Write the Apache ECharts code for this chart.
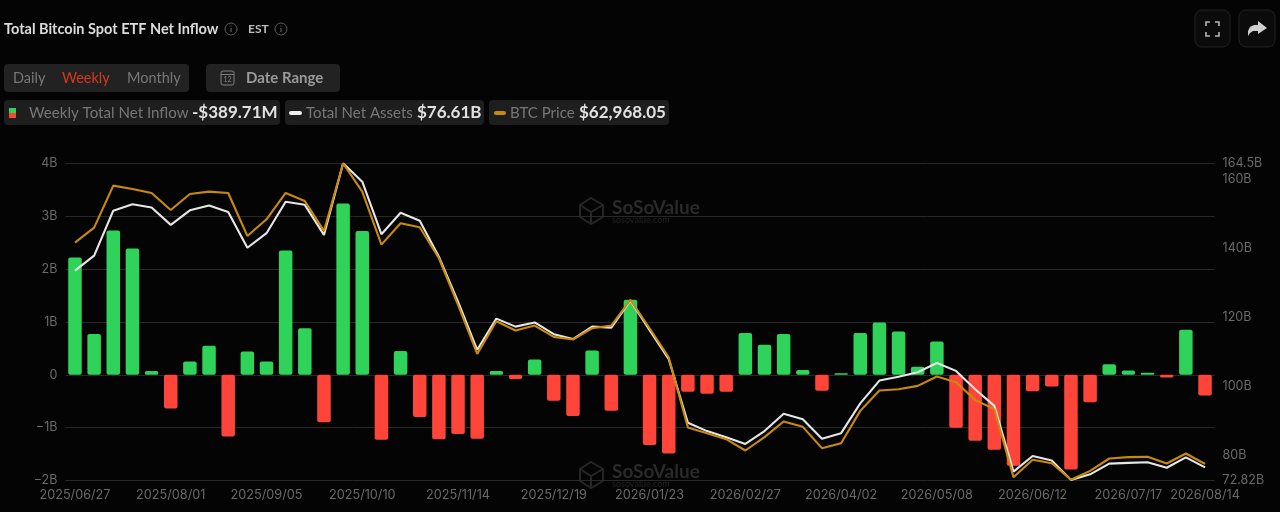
<!DOCTYPE html>
<html><head><meta charset="utf-8">
<style>html,body{margin:0;padding:0;background:#040404}#c{width:1280px;height:512px;filter:blur(0.45px)}</style>
<script src="https://cdn.jsdelivr.net/npm/echarts@6/dist/echarts.min.js"></script>
</head><body><div id="c"></div>
<script>
const dates = ['2025/06/27','2025/07/03','2025/07/11','2025/07/18','2025/07/25','2025/08/01','2025/08/08','2025/08/15','2025/08/22','2025/08/29','2025/09/05','2025/09/12','2025/09/19','2025/09/26','2025/10/03','2025/10/10','2025/10/17','2025/10/24','2025/10/31','2025/11/07','2025/11/14','2025/11/21','2025/11/28','2025/12/05','2025/12/12','2025/12/19','2025/12/26','2026/01/02','2026/01/09','2026/01/16','2026/01/23','2026/01/30','2026/02/06','2026/02/13','2026/02/20','2026/02/27','2026/03/06','2026/03/13','2026/03/20','2026/03/27','2026/04/02','2026/04/10','2026/04/17','2026/04/24','2026/05/01','2026/05/08','2026/05/15','2026/05/22','2026/05/29','2026/06/05','2026/06/12','2026/06/18','2026/06/26','2026/07/02','2026/07/10','2026/07/17','2026/07/24','2026/07/31','2026/08/07','2026/08/14'];
const netInflow = [2.22,0.77,2.73,2.39,0.07,-0.64,0.25,0.55,-1.17,0.44,0.25,2.35,0.88,-0.90,3.24,2.72,-1.23,0.45,-0.80,-1.22,-1.12,-1.21,0.07,-0.08,0.29,-0.49,-0.78,0.46,-0.68,1.42,-1.33,-1.49,-0.32,-0.36,-0.32,0.79,0.57,0.77,0.09,-0.30,0.03,0.79,0.99,0.82,0.15,0.63,-1.00,-1.25,-1.42,-1.72,-0.31,-0.22,-1.79,-0.52,0.20,0.08,0.04,-0.05,0.85,-0.39];
const netAssets = [133.5,137.8,150.8,152.65,151.7,146.7,150.9,152.3,150.4,140.1,144.3,153.4,152.5,143.8,164.5,159.2,144.0,150.2,147.9,137.5,124.5,110.6,119.6,117.3,118.5,115.1,113.7,117.3,117.0,124.8,116.3,107.9,89.5,87.1,85.3,83.4,87.1,92.1,90.5,84.9,86.5,95.1,101.7,102.8,104.1,106.8,104.5,99.2,94.4,75.4,79.9,78.6,73.0,74.6,77.7,77.9,78.1,76.5,79.5,76.61];
const btcPrice = [109376,112519,121320,120622,119783,116221,119574,120063,119783,110773,114265,119783,118107,111820,126000,120063,108957,113427,112589,106093,96314,86046,92891,90935,91983,89608,89049,91424,91983,97361,91424,85347,70609,69421,68164,65789,68583,71866,70749,66278,67326,74101,78362,78642,79340,81296,80109,76406,74451,60201,63833,63135,59642,61528,64113,64392,64462,63065,65161,62968.05];
const rightTicks = [72.82,80,100,120,140,160,164.5];
const xLabelIdx = [0,5,10,15,20,25,30,35,40,45,50,55,59];
const modes = ['Daily','Weekly','Monthly'];

const F = 'Lato, "Noto Sans", sans-serif';
const AX = 'Inter, sans-serif';
const GREEN='#30d35a', RED='#ff453a', ORANGE='#c98a0c', WHITE='#e6e6e6';

function txt(x,y,t,size,fill,weight,align){return {type:'text',x,y,style:{text:t,font:(weight||400)+' '+size+'px '+F,fill,textAlign:align||'left',textVerticalAlign:'middle'}}}
function box(x,y,w,h,fill,r,stroke){return {type:'rect',shape:{x,y,width:w,height:h,r:r||4},style:{fill:fill,stroke:stroke||null,lineWidth:stroke?1:0}}}
function info(cx,cy){return [{type:'circle',shape:{cx,cy,r:6},style:{fill:null,stroke:'#5c5c5c',lineWidth:1}},{type:'line',shape:{x1:cx,y1:cy-1,x2:cx,y2:cy+3},style:{stroke:'#6c6c6c',lineWidth:1}},{type:'circle',shape:{cx,cy:cy-3,r:.6},style:{fill:'#6c6c6c'}}]}
function wm(dy){return [
 {type:'polygon',shape:{points:[[591,198+dy],[603,205+dy],[603,217+dy],[591,224+dy],[580,217+dy],[580,205+dy]]},style:{fill:null,stroke:'#262626',lineWidth:2}},
 {type:'polyline',shape:{points:[[580,205+dy],[591,212+dy],[603,205+dy]]},style:{fill:null,stroke:'#262626',lineWidth:2}},
 {type:'line',shape:{x1:591,y1:212+dy,x2:591,y2:224+dy},style:{stroke:'#262626',lineWidth:2}},
 {type:'text',x:612,y:208+dy,style:{text:'SoSoValue',font:'700 19px '+F,fill:'#2a2a2a',textVerticalAlign:'middle'}},
 {type:'text',x:612,y:220+dy,style:{text:'sosovalue.com',font:'400 9px '+F,fill:'#222222',textVerticalAlign:'middle'}}
]}
const corner=(x1,y1,x2,y2,x3,y3)=>({type:'polyline',shape:{points:[[x1,y1],[x2,y2],[x3,y3]]},style:{fill:null,stroke:'#b5b5b5',lineWidth:1.6}});

const chrome = [
 ...wm(0),...wm(264),
 txt(4,29,'Total Bitcoin Spot ETF Net Inflow',14.5,'#dcdcdc',700),
 ...info(231,29),
 txt(248,29,'EST',12,'#bdbdbd',700),
 ...info(281,29),
 box(1195,10,35,37,'#0b0b0b',7,'#222'),
 box(1239,10,36,37,'#0b0b0b',7,'#222'),
 corner(1206,26,1206,22,1210,22),corner(1215,22,1219,22,1219,26),corner(1206,32,1206,36,1210,36),corner(1215,36,1219,36,1219,32),
 {type:'polygon',shape:{points:[[1258,21],[1267,28],[1258,34],[1258,31],[1253,31],[1250,33],[1248,36],[1248,31],[1250,27],[1254,25],[1258,25]]},style:{fill:'#cfcfcf'}},
 box(4,64,185,28,'#222222',4),
 txt(13,78,modes[0],14.5,'#777777',400),
 txt(62,78,modes[1],14.5,'#d5391c',400),
 txt(127,78,modes[2],14.5,'#777777',400),
 box(206,64,134,28,'#222222',4),
 box(221,71,13,14,null,2,'#808080'),
 {type:'line',shape:{x1:221,y1:74.5,x2:234,y2:74.5},style:{stroke:'#808080',lineWidth:1}},
 {type:'text',x:227.5,y:80,style:{text:'12',font:'400 7px '+F,fill:'#808080',textAlign:'center',textVerticalAlign:'middle'}},
 txt(246,78,'Date Range',15,'#9a9a9a',700),
 box(4,100,276,25,'#1e1e1e',4),
 box(285,100,199,25,'#1e1e1e',4),
 box(489,100,180,25,'#1e1e1e',4),
 {type:'rect',shape:{x:9,y:108,width:7,height:5},style:{fill:GREEN}},
 {type:'rect',shape:{x:9,y:113,width:7,height:5},style:{fill:RED}},
 txt(29,113,'Weekly Total Net Inflow',15.1,'#777777',400),
 txt(192,113,'-$389.71M',17,'#e2e2e2',700),
 {type:'rect',shape:{x:289,y:111,width:13,height:4,r:2},style:{fill:'#eeeeee'}},
 txt(306,113,'Total Net Assets',15,'#777777',400),
 txt(417,113,'$76.61B',17,'#e2e2e2',700),
 {type:'rect',shape:{x:494,y:111,width:12,height:4,r:2},style:{fill:ORANGE}},
 txt(510,113,'BTC Price',15,'#777777',400),
 txt(579,113,'$62,968.05',17,'#e2e2e2',700)
];

const chart = echarts.init(document.getElementById('c'),null,{renderer:'canvas'});
chart.setOption({
 backgroundColor:'#040404',
 animation:false,
 graphic:{elements:chrome},
 grid:{left:65.4,right:65.4,top:163.3,bottom:31.5},
 xAxis:{type:'category',data:dates,
  axisLine:{show:false},axisTick:{show:false},splitLine:{show:false},
  axisLabel:{interval:(i)=>xLabelIdx.includes(i),color:'#6a6a6a',fontFamily:AX,fontSize:12.7,margin:8}},
 yAxis:[
  {type:'value',min:-2,max:4,interval:1,position:'left',
   axisLine:{show:false},axisTick:{show:false},
   splitLine:{lineStyle:{color:'#282828',width:1}},
   axisLabel:{color:'#6a6a6a',fontFamily:AX,fontSize:12.5,margin:8,
    formatter:v=>v===0?'0':(v<0?'\u2212'+(-v):v)+'B'}},
  {type:'value',min:72.82,max:164.5,position:'right',
   axisLine:{show:false},axisTick:{show:false},splitLine:{show:false},
   axisLabel:{customValues:rightTicks,color:'#6a6a6a',fontFamily:AX,fontSize:12.5,margin:8,formatter:v=>v+'B'}},
  {type:'value',min:59500,max:126000,show:false,splitLine:{show:false}}
 ],
 series:[
  {name:'Weekly Total Net Inflow',type:'bar',data:netInflow,barWidth:13.5,yAxisIndex:0,z:2,
   itemStyle:{borderRadius:2,color:p=>p.value>=0?GREEN:RED}},
  {name:'Total Net Assets',type:'line',data:netAssets,yAxisIndex:1,symbol:'none',z:3,lineStyle:{color:WHITE,width:2.1}},
  {name:'BTC Price',type:'line',data:btcPrice,yAxisIndex:2,symbol:'none',z:4,lineStyle:{color:ORANGE,width:2.1}}
 ]
});
</script></body></html>
